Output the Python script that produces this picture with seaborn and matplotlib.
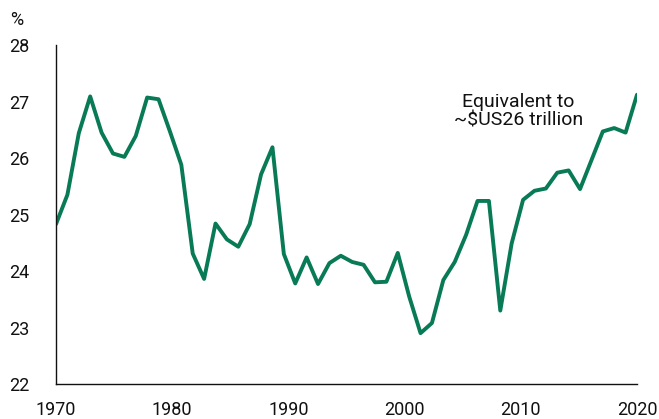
import numpy as np
import pandas as pd
import seaborn as sns
import matplotlib.pyplot as plt

years = list(range(1970, 2022))
share = [24.83, 25.35, 26.44, 27.09, 26.45, 26.08, 26.02, 26.39, 27.07, 27.04,
         26.47, 25.88, 24.31, 23.86, 24.84, 24.56, 24.43, 24.83, 25.71, 26.19,
         24.30, 23.78, 24.24, 23.77, 24.14, 24.27, 24.16, 24.11, 23.80, 23.81,
         24.32, 23.55, 22.90, 23.08, 23.84, 24.16, 24.64, 25.24, 25.24, 23.30,
         24.49, 25.26, 25.42, 25.46, 25.74, 25.78, 25.45, 25.96, 26.47, 26.53,
         26.45, 27.12]
tick_labels = ['1970', '1980', '1990', '2000', '2010', '2020']
y_ticks = [22, 23, 24, 25, 26, 27, 28]
note = 'Equivalent to\n~$US26 trillion'

df = pd.DataFrame({'year': years, 'share': share})

sns.set_style('white')
plt.rcParams['font.family'] = ['Roboto', 'DejaVu Sans']

fig = plt.figure(figsize=(6.59, 4.19), dpi=100)
ax = fig.add_axes([0.085, 0.0835, 0.8816, 0.8091])

sns.lineplot(data=df, x='year', y='share', color='#087a56', linewidth=2.8, ax=ax)

ax.set_xlim(years[0], years[-1])
ax.set_ylim(22, 28)
ax.set_xticks(np.linspace(years[0], years[-1], len(tick_labels)))
ax.set_xticklabels(tick_labels)
ax.set_yticks(y_ticks)
ax.tick_params(axis='both', length=0, labelsize=13, colors='#111111')
ax.tick_params(axis='y', pad=19)
ax.tick_params(axis='x', pad=12)
ax.set_xlabel('')
ax.set_ylabel('')

for side in ['top', 'right']:
    ax.spines[side].set_visible(False)
for side in ['left', 'bottom']:
    ax.spines[side].set_color('#111111')
    ax.spines[side].set_linewidth(1.0)

fig.text(0.016, 0.952, '%', fontsize=13, color='#111111', va='center', ha='left')
ax.text(2010.6, 26.83, note, fontsize=14, color='#111111', ha='center', va='center',
        linespacing=1.0)

fig.savefig('out.png', dpi=100)
